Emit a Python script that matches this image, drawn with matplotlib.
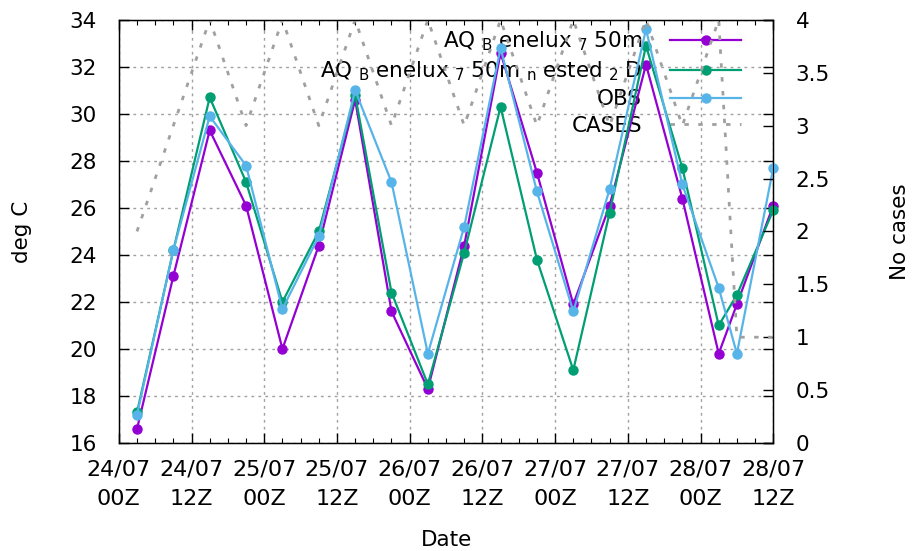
import matplotlib
matplotlib.use('Agg')
import matplotlib.pyplot as plt
from matplotlib.ticker import MultipleLocator, FixedLocator, FormatStrFormatter


# valid time, hours after 24/07 00Z
hours = [3, 9, 15, 21, 27, 33, 39, 45, 51, 57, 63, 69, 75, 81, 87, 93, 99, 102, 108]

t_750m = [16.6, 23.1, 29.3, 26.1, 20.0, 24.4, 30.6, 21.6, 18.3, 24.4,
          32.6, 27.5, 21.9, 26.1, 32.1, 26.4, 19.8, 21.9, 26.1]
t_750m_nested = [17.3, 24.2, 30.7, 27.1, 22.0, 25.0, 30.8, 22.4, 18.5, 24.1,
                 30.3, 23.8, 19.1, 25.8, 32.9, 27.7, 21.0, 22.3, 25.9]
t_obs = [17.2, 24.2, 29.9, 27.8, 21.7, 24.8, 31.0, 27.1, 19.8, 25.2,
         32.8, 26.7, 21.6, 26.8, 33.6, 27.0, 22.6, 19.8, 27.7]
n_cases = [2, 3, 4, 3, 4, 3, 4, 3, 4, 3, 4, 3, 4, 3, 4, 3, 4, 1, 1]

tick_hours = [0, 12, 24, 36, 48, 60, 72, 84, 96, 108]
tick_labels = ['24/07\n00Z', '24/07\n12Z', '25/07\n00Z', '25/07\n12Z', '26/07\n00Z',
               '26/07\n12Z', '27/07\n00Z', '27/07\n12Z', '28/07\n00Z', '28/07\n12Z']
cases_ticks = [0, 0.5, 1, 1.5, 2, 2.5, 3, 3.5, 4]

# gnuplot enhanced text turns every "_x" into a subscript
label_750m = r'AQ $_\mathregular{B}\;$enelux $_\mathregular{7}\;$50m'
label_nested = (r'AQ $_\mathregular{B}\;$enelux $_\mathregular{7}\;$50m'
                r' $_\mathregular{n}\;$ested $_\mathregular{2}\;$D')

plt.rcParams['font.family'] = ['DejaVu Sans']
plt.rcParams['mathtext.fontset'] = 'dejavusans'

FS = 15.5
GREY = '#a0a0a0'

fig = plt.figure(figsize=(9.14, 5.51), dpi=100)
ax = fig.add_axes([0.130, 0.196, 0.716, 0.768])
ax2 = ax.twinx()

line_kw = dict(linewidth=1.6, marker='o', markersize=6.5, zorder=3, clip_on=False)
ax.plot(hours, t_750m, color='#9400d3', label=label_750m, **line_kw)
ax.plot(hours, t_750m_nested, color='#009e73', label=label_nested, **line_kw)
ax.plot(hours, t_obs, color='#56b4e9', label='OBS', **line_kw)
ax2.plot(hours, n_cases, color=GREY, linewidth=2.0, linestyle=(0, (1.6, 3.4)),
         label='CASES')

ax.set_xlim(0, 108)
ax.set_ylim(16, 34)
ax2.set_ylim(0, 4)

ax.xaxis.set_major_locator(FixedLocator(tick_hours))
ax.set_xticklabels(tick_labels)
ax.xaxis.set_minor_locator(MultipleLocator(3))
ax.yaxis.set_major_locator(MultipleLocator(2))
ax2.yaxis.set_major_locator(FixedLocator(cases_ticks))
ax2.yaxis.set_major_formatter(FormatStrFormatter('%g'))

ax.grid(True, which='major', color=GREY, linestyle=(0, (2, 3)), linewidth=1.0)

ax.tick_params(which='both', direction='in', top=True, right=True)
ax.tick_params(which='major', length=7, width=1.0)
ax.tick_params(which='minor', length=3.5, width=0.8)
ax.tick_params(axis='x', labelsize=FS + 0.5, pad=12)
ax.tick_params(axis='y', labelsize=FS, pad=16)
ax2.tick_params(direction='in', length=7, width=1.0, labelsize=FS, pad=16)
for lab in ax.get_xticklabels():
    lab.set_linespacing(1.6)

for sp in ax.spines.values():
    sp.set_linewidth(1.0)

ax.set_xlabel('Date', fontsize=FS, va='center')
ax.set_ylabel('deg C', fontsize=FS, va='center')
ax2.set_ylabel('No cases', fontsize=FS, va='center', rotation=90)
ax.xaxis.set_label_coords(0.5, -0.229)
ax.yaxis.set_label_coords(-0.148, 0.5)
ax2.yaxis.set_label_coords(1.194, 0.5)

handles = ax.get_legend_handles_labels()[0] + ax2.get_legend_handles_labels()[0]
labels = [h.get_label() for h in handles]
leg = ax.legend(handles, labels, loc='upper right', bbox_to_anchor=(0.951, 0.978),
                frameon=False, markerfirst=False, numpoints=1, fontsize=FS,
                handlelength=3.3, handletextpad=1.3, labelspacing=0.3,
                borderpad=0, borderaxespad=0)
leg.set_zorder(2)

fig.savefig('out.png', dpi=100)
